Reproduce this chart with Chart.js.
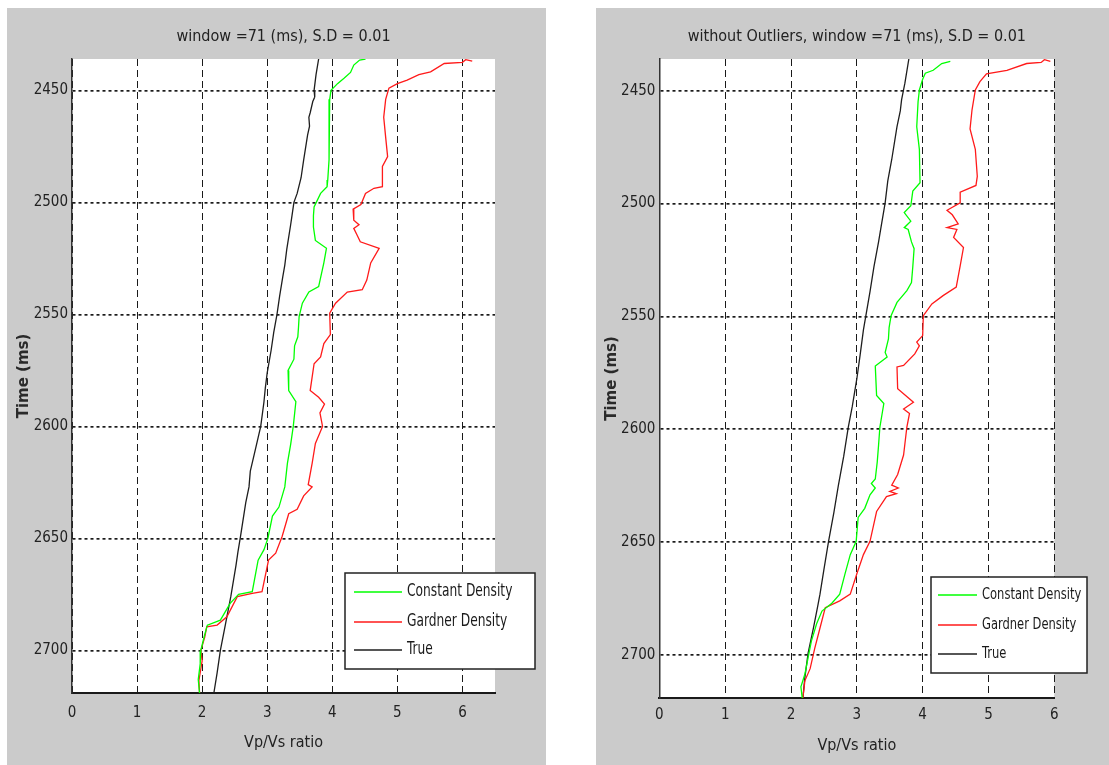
<!DOCTYPE html>
<html>
<head>
<meta charset="utf-8">
<script src="https://cdn.jsdelivr.net/npm/chart.js@4.4.1/dist/chart.umd.min.js"></script>
<style>
  body { margin: 0; background: #fff; width: 1109px; height: 765px; overflow: hidden; position: relative; }
  .panel { position: absolute; top: 8px; height: 757px; background: #cbcbcb; }
  #panelLeft { left: 7px; width: 539px; }
  #panelRight { left: 596px; width: 513px; }
</style>
</head>
<body>
<div class="panel" id="panelLeft"><canvas id="chartLeft" width="539" height="757"></canvas></div>
<div class="panel" id="panelRight"><canvas id="chartRight" width="513" height="757"></canvas></div>
<script>
// tick values
const timeTicks = [2450, 2500, 2550, 2600, 2650, 2700];
const ratioTicks = [0, 1, 2, 3, 4, 5, 6];
const seriesNames = ['Constant Density', 'Gardner Density', 'True'];
const titles = ['window =71 (ms), S.D = 0.01', 'without Outliers, window =71 (ms), S.D = 0.01'];

// [Vp/Vs, time ms], top to bottom
const leftConstant = [[4.51,2436],[4.42,2436.5],[4.33,2438.7],[4.28,2442],[4.18,2444.6],[4.08,2447],[3.98,2450],[3.96,2454],[3.95,2462],[3.95,2471],[3.95,2481],[3.93,2490],[3.92,2493],[3.82,2496],[3.72,2502],[3.71,2506],[3.71,2511],[3.74,2517],[3.91,2520.5],[3.87,2527],[3.79,2537.6],[3.64,2540],[3.54,2545],[3.49,2551],[3.48,2556],[3.47,2560],[3.42,2564],[3.41,2570],[3.32,2575],[3.33,2584],[3.44,2589],[3.40,2600],[3.36,2608],[3.31,2616.5],[3.27,2627],[3.18,2636],[3.08,2640],[3.01,2650],[2.95,2655],[2.86,2659.7],[2.77,2673.8],[2.56,2675],[2.43,2679],[2.28,2686.5],[2.08,2688.7],[2.03,2694],[1.98,2700],[1.97,2706],[1.94,2713],[1.96,2719]];
const leftGardner = [[6.15,2437],[6.05,2436.3],[6.0,2437.5],[5.72,2438],[5.51,2441.7],[5.33,2443],[5.15,2445.4],[5.0,2447],[4.87,2449],[4.82,2454],[4.79,2462],[4.82,2471],[4.85,2479.6],[4.77,2484],[4.77,2493],[4.64,2493.7],[4.51,2496],[4.44,2501],[4.32,2503],[4.33,2508],[4.41,2510],[4.33,2511.6],[4.38,2514.6],[4.43,2517.6],[4.72,2520.5],[4.59,2527],[4.53,2534.7],[4.46,2539],[4.23,2540],[4.05,2545],[3.96,2549.5],[3.97,2559],[3.87,2563],[3.82,2569],[3.72,2572],[3.66,2584],[3.79,2587],[3.88,2590],[3.81,2594],[3.85,2600],[3.74,2607.6],[3.69,2616.5],[3.63,2626],[3.69,2627],[3.56,2631],[3.46,2637],[3.33,2639],[3.23,2649],[3.13,2656.6],[3.02,2659.7],[2.92,2673.8],[2.77,2674.5],[2.54,2676],[2.38,2685],[2.23,2688.7],[2.07,2689.5],[2.04,2694],[1.98,2700],[2.0,2704.6],[1.95,2713.5],[1.96,2719]];
const leftTrue = [[3.79,2436],[3.75,2443],[3.72,2450],[3.73,2453],[3.70,2455],[3.66,2460],[3.64,2462],[3.65,2466],[3.62,2470],[3.56,2481],[3.52,2489],[3.46,2496],[3.41,2500],[3.38,2506],[3.36,2510],[3.30,2521],[3.27,2528],[3.24,2533],[3.19,2542],[3.15,2550],[3.10,2558],[3.06,2566],[3.00,2576],[2.97,2583],[2.95,2589],[2.90,2600],[2.86,2605],[2.82,2610],[2.74,2620],[2.72,2627],[2.67,2634],[2.59,2649],[2.55,2656],[2.52,2662],[2.44,2676],[2.36,2688],[2.28,2700],[2.23,2710],[2.18,2719]];

const rightConstant = [[4.42,2437],[4.29,2438],[4.16,2441],[4.04,2442.3],[4.0,2445],[3.95,2449.7],[3.93,2455],[3.91,2466],[3.95,2476],[3.96,2490.8],[3.85,2494.5],[3.82,2501],[3.72,2504],[3.82,2507.8],[3.72,2510.7],[3.78,2511.5],[3.83,2517],[3.87,2520],[3.85,2528],[3.83,2535],[3.76,2538.6],[3.61,2543.8],[3.52,2549.7],[3.49,2555],[3.48,2560],[3.43,2566],[3.46,2568],[3.28,2572],[3.30,2585],[3.41,2588.6],[3.35,2599],[3.33,2607],[3.31,2614.4],[3.28,2622],[3.22,2624],[3.28,2626],[3.20,2629],[3.12,2635],[3.02,2639],[2.99,2649.6],[2.90,2655.5],[2.82,2664],[2.74,2673],[2.62,2677],[2.47,2680.5],[2.39,2686],[2.31,2693.7],[2.26,2701],[2.21,2708.5],[2.15,2714],[2.17,2719]];
const rightGardner = [[5.94,2437],[5.85,2436.3],[5.80,2437.5],[5.58,2438],[5.28,2441],[4.97,2442.6],[4.87,2446],[4.80,2449.7],[4.75,2458.5],[4.72,2467],[4.80,2476],[4.83,2488],[4.81,2492],[4.57,2495],[4.57,2499.7],[4.37,2503],[4.45,2505],[4.54,2509],[4.37,2510.7],[4.52,2511.5],[4.47,2515],[4.62,2519.5],[4.57,2527.6],[4.51,2537],[4.31,2540.8],[4.14,2544.5],[4.01,2549.7],[4.0,2558.5],[3.91,2561.4],[3.95,2563],[3.88,2566.6],[3.71,2571.7],[3.61,2572.4],[3.62,2582],[3.86,2588],[3.71,2591],[3.80,2593],[3.76,2599],[3.71,2611.4],[3.62,2620],[3.53,2624.7],[3.63,2626],[3.50,2627.5],[3.60,2628.5],[3.45,2629.8],[3.30,2636.4],[3.20,2649.6],[3.10,2655.5],[3.0,2664],[2.90,2673],[2.74,2676],[2.52,2679],[2.44,2688],[2.36,2697],[2.29,2706],[2.21,2711.4],[2.18,2719]];
const rightTrue = [[3.79,2436],[3.73,2446.7],[3.68,2454],[3.66,2459],[3.61,2466],[3.53,2480.5],[3.47,2490],[3.43,2499.7],[3.37,2510],[3.33,2517],[3.26,2528],[3.20,2539],[3.10,2556],[3.05,2567],[3.0,2577.6],[2.93,2590],[2.87,2599],[2.80,2612],[2.72,2624.7],[2.65,2637],[2.57,2649.6],[2.50,2662],[2.44,2673],[2.41,2677.6],[2.34,2688],[2.26,2699],[2.21,2710],[2.18,2719]];

const NARROW = "'Liberation Sans Narrow', 'Arial Narrow', 'DejaVu Sans Condensed', 'Liberation Sans', sans-serif";
const lineColors = ['#00ff00', '#ff1a1a', '#1e1e1e'];

const plotBackground = {
  id: 'plotBackground',
  beforeDraw(chart) {
    const {ctx, chartArea: a} = chart;
    ctx.save();
    ctx.fillStyle = '#ffffff';
    ctx.fillRect(a.left, a.top, a.right - a.left, a.bottom - a.top);
    ctx.restore();
  }
};

// legend box placed where matlab put it (half outside the axes)
const boxLegend = {
  id: 'boxLegend',
  afterDraw(chart, args, opts) {
    const ctx = chart.ctx;
    ctx.save();
    ctx.fillStyle = '#ffffff';
    ctx.fillRect(opts.x, opts.y, opts.w, opts.h);
    ctx.strokeStyle = '#222';
    ctx.lineWidth = 1.5;
    ctx.strokeRect(opts.x, opts.y, opts.w, opts.h);
    ctx.font = opts.fontSize + 'px ' + NARROW;
    ctx.textBaseline = 'middle';
    chart.data.datasets.forEach((ds, i) => {
      const yy = opts.rows[i];
      ctx.strokeStyle = ds.borderColor;
      ctx.lineWidth = 1.5;
      ctx.beginPath();
      ctx.moveTo(opts.lineX0, yy);
      ctx.lineTo(opts.lineX1, yy);
      ctx.stroke();
      ctx.save();
      ctx.translate(opts.textX, yy);
      ctx.scale(opts.squeeze, 1);
      ctx.fillStyle = '#1a1a1a';
      ctx.fillText(ds.label, 0, 0);
      ctx.restore();
    });
    ctx.restore();
  }
};

function toPoints(list) {
  return list.map(p => ({x: p[0], y: p[1]}));
}

function makeChart(id, cfg) {
  const canvas = document.getElementById(id);
  const W = canvas.width, H = canvas.height;
  return new Chart(canvas, {
    type: 'line',
    data: {
      datasets: cfg.series.map((s, i) => ({
        label: seriesNames[i],
        data: toPoints(s),
        borderColor: lineColors[i],
        borderWidth: 1.3,
        pointRadius: 0,
        tension: 0,
        fill: false
      }))
    },
    options: {
      responsive: false,
      animation: false,
      layout: { padding: { left: 0, top: 0, bottom: 0, right: W - cfg.area.right } },
      scales: {
        x: {
          type: 'linear',
          min: 0,
          max: cfg.xMax,
          afterBuildTicks: (s) => { s.ticks = ratioTicks.map(v => ({value: v})); },
          afterFit: (s) => { s.height = H - cfg.area.bottom; },
          grid: { color: '#1a1a1a', lineWidth: 1, drawTicks: false },
          border: { display: true, color: '#1a1a1a', width: 2, dash: [7, 4] },
          ticks: { color: '#222', padding: cfg.xTickPad, font: { family: NARROW, size: 15 }, maxRotation: 0, callback: v => String(v) },
          title: { display: true, text: 'Vp/Vs ratio', color: '#222', font: { family: NARROW, size: 16 }, padding: { top: 0, bottom: cfg.xTitlePad } }
        },
        y: {
          type: 'linear',
          reverse: true,
          min: 2436,
          max: 2719,
          afterBuildTicks: (s) => { s.ticks = timeTicks.map(v => ({value: v})); },
          afterFit: (s) => { s.width = cfg.area.left; },
          grid: { color: '#1a1a1a', lineWidth: 1.7, drawTicks: false },
          border: { display: true, color: '#333', width: 1.5, dash: [3, 3] },
          ticks: { color: '#222', padding: 4, font: { family: NARROW, size: 15 }, callback: v => String(v) },
          title: { display: true, text: 'Time (ms)', color: '#2a2a2a', font: { family: "'DejaVu Sans', sans-serif", size: 15, weight: 'bold' }, padding: { top: cfg.yTitlePad, bottom: 0 } }
        }
      },
      plugins: {
        legend: { display: false },
        tooltip: { enabled: false },
        title: {
          display: true,
          fullSize: false,
          text: cfg.title,
          color: '#222',
          font: { family: NARROW, size: 16, weight: 'normal' },
          padding: { top: 19, bottom: cfg.area.top - 19 - 19.2 }
        },
        boxLegend: cfg.legend
      }
    },
    plugins: [plotBackground, boxLegend]
  });
}

makeChart('chartLeft', {
  series: [leftConstant, leftGardner, leftTrue],
  title: titles[0],
  xMax: 6.5,
  area: { left: 65, top: 51, right: 488, bottom: 685 },
  xTickPad: 11, xTitlePad: 13, yTitlePad: 8,
  legend: { x: 338, y: 565, w: 190, h: 96, lineX0: 347, lineX1: 395, textX: 400, rows: [584, 614, 642], fontSize: 17, squeeze: 0.8 }
});

makeChart('chartRight', {
  series: [rightConstant, rightGardner, rightTrue],
  title: titles[1],
  xMax: 6,
  area: { left: 63.4, top: 51, right: 458.3, bottom: 690 },
  xTickPad: 8, xTitlePad: 10, yTitlePad: 7,
  legend: { x: 335, y: 569, w: 156, h: 96, lineX0: 342, lineX1: 381, textX: 386, rows: [587, 617, 646], fontSize: 16, squeeze: 0.8 }
});
</script>
</body>
</html>
